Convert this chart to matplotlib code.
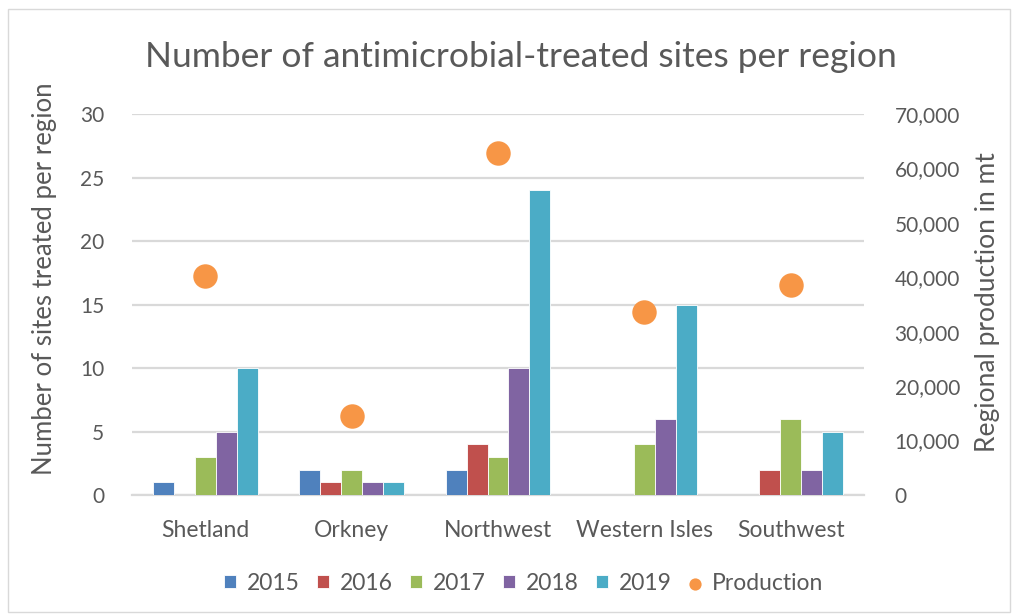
import matplotlib.pyplot as plt
import numpy as np
from matplotlib.patches import Rectangle

plt.rcParams['font.family'] = ['Lato', 'DejaVu Sans']

# data
regions = ['Shetland', 'Orkney', 'Northwest', 'Western Isles', 'Southwest']
years = ['2015', '2016', '2017', '2018', '2019']
sites_2015 = [1, 2, 2, 0, 0]
sites_2016 = [0, 1, 4, 0, 2]
sites_2017 = [3, 2, 3, 4, 6]
sites_2018 = [5, 1, 10, 6, 2]
sites_2019 = [10, 1, 24, 15, 5]
production = [40300, 14600, 62800, 33700, 38600]

colors = ['#4F81BD', '#C0504D', '#9BBB59', '#8064A2', '#4BACC6']
prod_color = '#F79646'
txt = '#595959'
grid_c = '#D9D9D9'

fig = plt.figure(figsize=(10.18, 6.15), dpi=100)
ax = fig.add_axes([0.1297, 0.1951, 0.719, 0.6195])
ax2 = ax.twinx()

x = np.arange(len(regions))
w = 0.143
series = [sites_2015, sites_2016, sites_2017, sites_2018, sites_2019]
for i, vals in enumerate(series):
    ax.bar(x + (i - 2) * w, vals, width=w, color=colors[i], label=years[i],
           edgecolor='white', linewidth=0.6, zorder=3)

ax2.scatter(x, production, s=310, color=prod_color, label='Production', zorder=4,
            linewidths=0)

ax.set_xlim(-0.5, 4.5)
ax.set_ylim(0, 30)
ax.set_yticks(range(0, 31, 5))
ax2.set_ylim(0, 70000)
ax2.set_yticks(range(0, 70001, 10000))
ax2.set_yticklabels([f'{v:,}' for v in range(0, 70001, 10000)])

ax.set_xticks(x)
ax.set_xticklabels(regions)
ax.yaxis.grid(True, color=grid_c, linewidth=1.6, zorder=0)
ax.set_axisbelow(True)

for a in (ax, ax2):
    for s in a.spines.values():
        s.set_visible(False)
    a.tick_params(length=0, labelsize=15, colors=txt)
ax.spines['bottom'].set_visible(True)
ax.spines['bottom'].set_color(grid_c)
ax.spines['bottom'].set_linewidth(1.6)
ax.tick_params(axis='y', pad=20)
ax.tick_params(axis='x', pad=18, labelsize=16.5)
ax2.tick_params(axis='y', pad=22)
ax2.set_zorder(ax.get_zorder() + 1)
ax2.patch.set_visible(False)

# axis titles placed like the Excel original (not centred on the plot area)
fig.text(45 / 1018, 1 - 279 / 615, 'Number of sites treated per region', rotation=90,
         ha='center', va='center', fontsize=18.5, color=txt)
fig.text(988 / 1018, 1 - 302 / 615, 'Regional production in mt', rotation=90,
         ha='center', va='center', fontsize=19, color=txt)

fig.text(0.512, 0.908, 'Number of antimicrobial-treated sites per region',
         ha='center', va='center', fontsize=25.5, color=txt)

h1, l1 = ax.get_legend_handles_labels()
h2, l2 = ax2.get_legend_handles_labels()
leg = fig.legend(h1 + h2, l1 + l2, loc='center', bbox_to_anchor=(0.514, 0.052),
                 ncol=6, frameon=False, fontsize=16.5, handlelength=0.55, handleheight=0.55,
                 handletextpad=0.45, columnspacing=0.75, labelcolor=txt, markerscale=0.5)

fig.patches.append(Rectangle((0.008, 0.005), 0.984, 0.98, transform=fig.transFigure,
                             fill=False, edgecolor='#D9D9D9', linewidth=1))

fig.savefig('out.png', dpi=100, facecolor='white')
